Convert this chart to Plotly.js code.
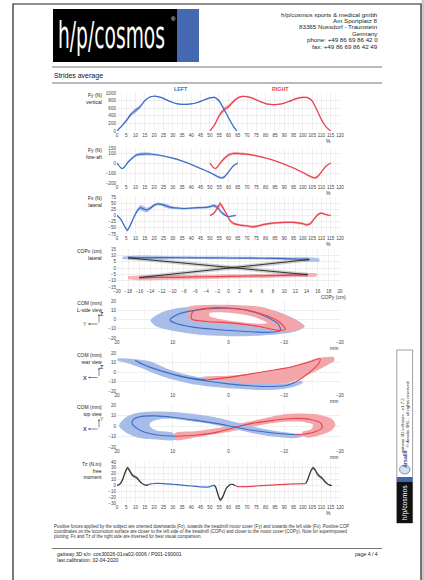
<!DOCTYPE html>
<html><head><meta charset="utf-8">
<script src="https://cdn.plot.ly/plotly-3.0.1.min.js"></script>
<style>
html,body{margin:0;padding:0;background:#fff;}
#wrap{position:relative;width:424px;height:580px;overflow:hidden;}
#chart{width:424px;height:580px;}
#logo{position:absolute;left:0;top:0;pointer-events:none;}
</style>
</head><body>
<div id="wrap"><div id="chart"></div>
<svg id="logo" width="424" height="70">
<text id="logotext" x="0" y="0" font-family="Liberation Sans Narrow, DejaVu Sans Condensed, Arial Narrow, sans-serif" font-size="38" fill="#ffffff">h/p/cosmos</text>
<text x="171" y="21" font-size="6" fill="#ffffff" font-family="Liberation Sans, Arial, sans-serif">®</text>
</svg>
</div>
<script>
// ---------------- DATA ----------------
// Fy vertical (N)
const fyL_x=[0,2.5,5,7.5,10,12.5,15,17.5,20,22.5,25,27.5,30,32.5,35,37.5,40,42.5,45,47.5,50,52.5,55,57.5,60,62.5,64.5];
const fyL_m=[0,130,270,440,540,640,800,890,915,900,860,800,750,715,700,700,712,738,780,830,870,885,790,580,350,130,0];
const fyL_s=[10,25,40,50,60,45,30,20,15,15,15,15,15,15,15,15,15,15,18,20,20,20,25,30,25,15,8];
const fyR_x=[50,52.5,55,57.5,60,62.5,65,67.5,70,72.5,75,77.5,80,82.5,85,87.5,90,92.5,95,97.5,100,102.5,105,107.5,110,112.5,115];
const fyR_m=[0,160,400,560,640,770,870,910,905,870,820,765,720,700,695,705,735,775,825,865,885,880,790,560,300,110,0];
const fyR_s=[10,30,45,55,55,40,30,20,15,15,15,15,15,15,15,15,15,18,20,20,20,20,25,30,25,15,8];
// Fy fore-aft (N)
const faL_x=[0,1,2,3,4,5,6,8,10,12.5,15,17.5,20,25,30,35,40,45,50,52.5,55,56.5,58,60,62.5,65];
const faL_m=[0,-25,-48,-55,-40,-15,10,45,75,88,92,90,85,70,48,20,-15,-55,-95,-120,-143,-150,-135,-90,-30,0];
const faL_s=[4,5,6,6,6,6,8,10,14,16,16,14,10,8,8,8,8,8,8,10,12,12,12,10,8,5];
const faR_x=[50,51,52,53,54,55,56,58,60,62.5,65,67.5,70,75,80,85,90,95,100,102.5,105,106.5,108,110,112.5,115];
const faR_m=[0,-25,-48,-55,-40,-15,10,50,80,95,95,92,88,72,50,22,-12,-50,-95,-120,-143,-150,-135,-90,-30,0];
const faR_s=[4,5,6,6,6,8,10,14,16,16,14,12,10,8,8,8,8,8,8,10,12,12,12,10,8,5];
// Fx lateral (N)
const fxL_x=[0,2,4,5.5,7,9,11,12.5,14,16,18,20,22,24,26,28,30,33,36,40,44,48,50,52,54,56,58,60,62,64];
const fxL_m=[0,-15,-42,-60,-42,-8,20,32,28,22,30,42,47,45,40,35,32,30,28,30,32,33,36,40,33,15,2,-5,-2,0];
const fxL_s=[3,4,5,6,6,6,8,10,12,10,8,6,6,6,8,8,6,5,4,4,4,5,6,7,8,6,5,4,3,3];
const fxR_x=[50,52,54,55.5,57,59,61,63,65,67,70,73,76,80,85,90,95,100,102,104,106,108,110,112,114,115];
const fxR_m=[0,8,30,48,32,5,-22,-33,-37,-40,-42,-46,-42,-35,-30,-28,-28,-33,-38,-33,-15,3,10,5,1,0];
const fxR_s=[3,5,8,10,8,6,6,6,5,5,5,6,5,5,4,4,4,5,6,6,5,5,4,3,3,3];
// COPx lateral vs COPy (cm)
const copL_bx=[-19,-16,-12,-8,-4,0,4,8,12,15,16.3];
const copL_bm=[8.0,8.3,8.2,8.1,8.0,7.9,7.8,7.6,7.2,6.6,6.2];
const copL_bs=[1.0,1.5,1.3,1.1,1.0,1.0,1.0,1.0,1.2,1.6,1.0];
const copL_lx=[-18,-14,-10,-6,-2,2,6,10,14.5];
const copL_ly=[8.0,8.2,8.15,8.05,7.95,7.85,7.7,7.4,6.7];
const copR_bx=[-18,-16,-12,-8,-4,0,4,8,12,14.5,15.8];
const copR_bm=[-7.6,-7.8,-7.6,-7.3,-7.0,-6.7,-6.4,-6.1,-5.8,-5.6,-5.5];
const copR_bs=[1.2,1.8,1.8,1.7,1.6,1.5,1.5,1.5,1.5,1.6,1.2];
const copR_lx=[-16,-12,-8,-4,0,4,8,12,14.2];
const copR_ly=[-7.6,-7.5,-7.2,-6.9,-6.6,-6.3,-6.0,-5.6,-5.3];
const copT1_x=[14.5,-16], copT1_y=[6.7,-7.6];
const copT2_x=[14.2,-18], copT2_y=[-5.3,8.0];
// COM L-side view (mm)
const comS_Lb_x=[14,12.3,9.3,4.6,-0.7,-5.5,-9.6,-12.5,-13.7,-12,-7.9,-1.3,4,9.3,12.9];
const comS_Lb_y=[-1,6.8,12.1,15,15,13.2,6.8,-1.5,-7.5,-12.9,-16.4,-18.2,-17.1,-12.9,-7.5];
const comS_Rb_x=[7,4,-1.3,-6.1,-10.2,-12.6,-13.5,-12.6,-9,-6.1,-1.3,2.8,5.8,7,7.3];
const comS_Rb_y=[13.9,15.7,15.7,13.2,5,-2.1,-7.5,-11,-12.9,-9.3,-5.7,-3.9,-2.1,1.4,8.6];
const comS_hole_x=[3.4,0.4,-4.3,-7,-5.5,-1.3,2.2,3.4];
const comS_hole_y=[6.8,7.5,3.2,-3.9,-4.6,-2.1,1.4,3.9];
const comS_L_x=[10.5,9.3,6.4,1.6,-3.1,-6.7,-9,-9.3,-7.3,-3.1,1.6,6.4,9.6,10.5];
const comS_L_y=[-0.4,5,9.6,12.1,10.4,3.2,-5.7,-11.8,-13.9,-12.9,-11.1,-8.2,-3.9,-0.4];
const comS_R_x=[6.7,6.4,4,-0.7,-5.5,-9,-10.2,-9,-5.5,-0.7,4,6.4,6.7];
const comS_R_y=[1.4,8.6,12.1,12.1,6.8,-2.1,-10.4,-11.8,-7.5,-3.9,-2.1,-0.4,1.4];
// COM rear view (mm)
const comR_Lb_x=[19.9,17.5,14,11,8,4,0,-4,-8,-11,-12.8,-13.4,-12,-9,-5,-1,3,7,10.5,13.5,16,18.5,19.9];
const comR_Lb_y=[14,14,11,3.5,-2,-7,-10,-12,-12.5,-11.5,-9,-11,-15,-18.5,-19,-17.5,-15.5,-12,-7,-1,5,10,12];
const comR_Rb_x=[5,0,-5,-9,-13,-16,-18.9,-19,-17,-15,-13,-11,-7,-2,3,5];
const comR_Rb_y=[-6,-4,-1,2.5,9,14.5,15.5,12,5,-1,-6,-11,-13.5,-14,-12,-10];
const comR_L_x=[4,8,12,15,16.7,14.5,11.5,8,4,0,-4,-8,-10.5,-12];
const comR_L_y=[-8.5,-5,1,7,12.2,6,0,-5.5,-9.5,-12.5,-14.5,-15.3,-14,-10.5];
const comR_R_x=[-12,-13.5,-15,-16.2,-16.4,-14.5,-11,-7,-3,1,4];
const comR_R_y=[-10.5,-5,2,9,14,10.5,5,1,-3,-6.5,-8.5];
// COM top view (mm)
const comT_Lb_x=[19.6,18.2,15.9,12.3,8.7,5.2,1.6,-1.3,-4.3,-7.9,-11.4,-13.2,-13.6,-12,-7.9,-4.3,-1.3,1.6,4,6.4,9.3,12.3,14,14.1,12.9,9.9,9.6,12.3,15.9,18.2,19.4];
const comT_Lb_y=[1.1,9,12.8,13.7,12.8,10.6,7.4,3.6,-0.5,-4.3,-6.8,-7.7,-9.3,-11.5,-9.9,-6.8,-3,0.2,2.7,4.3,6.5,6.5,3.3,-0.5,-4.3,-6.8,-13.1,-13.1,-11.5,-6.8,-2];
const comT_Rb_x=[9.6,6,2.5,-1,-4,-7,-10,-13,-16,-18.5,-19.2,-18.5,-16.5,-13.8,-13.2,-14.8,-15.2,-13.8,-11,-8,-5,-2,1.5,5,9.6];
const comT_Rb_y=[-6.8,-5,-2.3,1,4.5,8,11.2,12,11,7,1.5,-4,-8.5,-10.8,-5.8,-3,1,3.5,4.2,2.8,0,-3.5,-7,-10,-13.1];
const comT_L_x=[-12,-8,-4,-1,2,6,10,13,15.5,17,17.3,16.5,15,12.5,9.5];
const comT_L_y=[-8.3,-6.6,-3.8,-0.8,2.3,5.6,8.4,9.6,9.2,6.5,2.5,-2,-6,-8.8,-9.8];
const comT_R_x=[9.5,6,2,-1,-4,-8,-11.5,-14.5,-16.5,-16.8,-15.5,-13.5,-12];
const comT_R_y=[-9.8,-8.8,-5.8,-1.5,2.3,5.4,7.2,6.5,3,-1.5,-5.5,-7.8,-8.3];
// Tz free moment (N.m)
const tzA_x=[0,1,2,3,4,5,5.7,6.5,7.5,8.5,9.5,10.5,11.5,12.5,13.5,14.5,15.5,17];
const tzA_m=[0,1,4,10,19,27,30,27,21,17,15,13.5,10,6,3.5,1.5,0.5,1.5];
const tzA_s=[1,1,2,3,3,3,3,3,3,3,3,3,2.5,2,1.5,1,1,1];
const tzL_x=[17,18,20,22.5,25,30,35,40,45,48,50,52];
const tzL_m=[1.5,2.5,3.3,3.4,3,2,0.5,-1,-2.5,-3,-2,0.5];
const tzB_x=[52,53,54,55,55.5,56,57,58,59,60,61,62,63.5];
const tzB_m=[0.5,-2,-12,-22,-24.5,-24,-19,-11,-4,-1,1.5,2,0];
const tzB_s=[1,2,3,3.5,3.5,3.5,3,3,2,1.5,1,1,1];
const tzR_x=[63.5,65,67.5,70,75,80,85,90,95,100,101.5];
const tzR_m=[0,-2,-2.2,-2,-1,0,1,1.8,2.5,3.2,3];
const tzC_x=[101.5,102.5,103.5,104.5,105.5,106.5,107.5,108.5,109.5,110.5,111.5,112.5,113.5,114.5,115.5];
const tzC_m=[3,9,18,26,30,27,21,17,14.5,12,8,4.5,2,0.5,0];
const tzC_s=[1,2,3,3,3,3,3,3,3,2.5,2,1.5,1,1,1];

// ---------------- LOGO scaling ----------------
(function(){const t=document.getElementById('logotext');const w=t.getComputedTextLength()||160;t.setAttribute('transform','translate(58,48) scale('+(107/w).toFixed(4)+',1)');})();

// ---------------- STYLE ----------------
const W=424,H=580;
const px=v=>v/W, py=v=>1-v/H;
const FONT='Liberation Sans, Arial, sans-serif';
const BL='#3b6cc6', BLB='rgba(66,112,204,0.42)', RD='#e8424c', RDB='rgba(236,78,88,0.42)';
const BLO='#a8bce8', RDO='#f3a6a9';
const ax=n=>n===1?'x':'x'+n, ay=n=>n===1?'y':'y'+n;

const traces=[];
function bandTrace(n,x,m,s,color){
  const xs=x.concat(x.slice().reverse());
  const ys=m.map((v,i)=>v+s[i]).concat(m.map((v,i)=>v-s[i]).reverse());
  traces.push({type:'scatter',mode:'lines',x:xs,y:ys,fill:'toself',fillcolor:color,line:{width:0,shape:'spline',smoothing:0.5},xaxis:ax(n),yaxis:ay(n),hoverinfo:'skip'});
}
function polyTrace(n,x,y,color){
  traces.push({type:'scatter',mode:'lines',x:x.concat([x[0]]),y:y.concat([y[0]]),fill:'toself',fillcolor:color,line:{width:0,shape:'spline',smoothing:0.8},xaxis:ax(n),yaxis:ay(n),hoverinfo:'skip'});
}
function lineTrace(n,x,y,color,w,sm){
  traces.push({type:'scatter',mode:'lines',x:x,y:y,line:{color:color,width:w||1.2,shape:'spline',smoothing:sm===undefined?0.6:sm},xaxis:ax(n),yaxis:ay(n),hoverinfo:'skip'});
}
// 1 Fy vertical
bandTrace(1,fyL_x,fyL_m,fyL_s,BLB); bandTrace(1,fyR_x,fyR_m,fyR_s,RDB);
lineTrace(1,fyL_x,fyL_m,BL); lineTrace(1,fyR_x,fyR_m,RD);
// 2 Fy fore-aft
bandTrace(2,faL_x,faL_m,faL_s,BLB); bandTrace(2,faR_x,faR_m,faR_s,RDB);
lineTrace(2,faL_x,faL_m,BL); lineTrace(2,faR_x,faR_m,RD);
// 3 Fx lateral
bandTrace(3,fxL_x,fxL_m,fxL_s,BLB); bandTrace(3,fxR_x,fxR_m,fxR_s,RDB);
lineTrace(3,fxL_x,fxL_m,BL); lineTrace(3,fxR_x,fxR_m,RD);
// 4 COP
bandTrace(4,copL_bx,copL_bm,copL_bs,BLB); bandTrace(4,copR_bx,copR_bm,copR_bs,RDB);
lineTrace(4,copT1_x,copT1_y,'rgba(0,0,0,0.18)',4,0); lineTrace(4,copT2_x,copT2_y,'rgba(0,0,0,0.18)',4,0);
lineTrace(4,copL_lx,copL_ly,BL); lineTrace(4,copR_lx,copR_ly,RD);
lineTrace(4,copT1_x,copT1_y,'#222',0.9,0); lineTrace(4,copT2_x,copT2_y,'#222',0.9,0);
// 5 COM side view
polyTrace(5,comS_Lb_x,comS_Lb_y,BLO); polyTrace(5,comS_Rb_x,comS_Rb_y,RDO); polyTrace(5,comS_hole_x,comS_hole_y,'#ffffff');
lineTrace(5,comS_L_x,comS_L_y,BL,1.1,0.8); lineTrace(5,comS_R_x,comS_R_y,RD,1.1,0.8);
// 6 COM rear view
polyTrace(6,comR_Rb_x,comR_Rb_y,RDO); polyTrace(6,comR_Lb_x,comR_Lb_y,BLO);
lineTrace(6,comR_L_x,comR_L_y,BL,1.1,0.8); lineTrace(6,comR_R_x,comR_R_y,RD,1.1,0.8);
// 7 COM top view
polyTrace(7,comT_Rb_x,comT_Rb_y,RDO); polyTrace(7,comT_Lb_x,comT_Lb_y,BLO);
lineTrace(7,comT_R_x,comT_R_y,RD,1.1,0.8); lineTrace(7,comT_L_x,comT_L_y,BL,1.1,0.8);
// 8 Tz
bandTrace(8,tzA_x,tzA_m,tzA_s,'rgba(60,60,60,0.3)'); bandTrace(8,tzB_x,tzB_m,tzB_s,'rgba(60,60,60,0.3)'); bandTrace(8,tzC_x,tzC_m,tzC_s,'rgba(60,60,60,0.3)');
lineTrace(8,tzA_x,tzA_m,'#333'); lineTrace(8,tzB_x,tzB_m,'#333'); lineTrace(8,tzC_x,tzC_m,'#333');
lineTrace(8,tzL_x,tzL_m,BL); lineTrace(8,tzR_x,tzR_m,RD);

// ---------------- LAYOUT ----------------
const tickf={family:FONT,size:4.6,color:'#444'};
const layout={width:W,height:H,margin:{l:0,r:0,t:0,b:0},paper_bgcolor:'#fff',plot_bgcolor:'#fff',showlegend:false,hovermode:false,shapes:[],annotations:[]};
const plots=[
 {top:93,bot:131,xr:[0,120],xd:5,yr:[0,1000],yv:[0,200,400,600,800,1000],lab:'Fy (N)<br>vertical',xl:'%'},
 {top:148,bot:183,xr:[0,120],xd:5,yr:[-200,150],yv:[-200,-100,0,100,150],lab:'Fy (N)<br>fore-aft',xl:'%'},
 {top:197,bot:234,xr:[0,120],xd:5,yr:[-75,75],yv:[-75,-50,-25,0,25,50,75],lab:'Fx (N)<br>lateral',xl:'%'},
 {top:249,bot:287,xr:[-20,20],xd:2,yr:[-15,15],yv:[-15,-10,-5,0,5,10,15],lab:'COPx (cm)<br>lateral',xl:'COPy (cm)'},
 {top:301,bot:338,xr:[20,-20],xd:10,yr:[-20,20],yv:[-20,-10,0,10,20],lab:'COM (mm)<br>L-side view',xl:'mm'},
 {top:353,bot:391,xr:[20,-20],xd:10,yr:[-20,20],yv:[-20,-10,0,10,20],lab:'COM (mm)<br>rear view',xl:'mm'},
 {top:405,bot:447,xr:[20,-20],xd:10,yr:[-20,20],yv:[-20,-10,0,10,20],lab:'COM (mm)<br>top view',xl:'mm'},
 {top:462,bot:503,xr:[0,120],xd:5,yr:[-30,40],yv:[-30,-20,-10,0,10,20,30,40],lab:'Tz (N.m)<br>free<br>moment',xl:'%'}
];
plots.forEach((p,i)=>{
  const n=i+1, xk='xaxis'+(n===1?'':n), yk='yaxis'+(n===1?'':n);
  layout[xk]={domain:[px(117),px(340)],anchor:ay(n),range:p.xr,dtick:p.xd,tick0:0,tickangle:0,showgrid:true,gridcolor:'#e4e4e4',gridwidth:0.6,zeroline:false,showline:false,ticks:'',tickfont:tickf,fixedrange:true,
    minor:{dtick:p.xd/2,showgrid:true,gridcolor:'#f2f2f2',gridwidth:0.5}};
  layout[yk]={domain:[py(p.bot),py(p.top)],anchor:ax(n),range:p.yr,tickvals:p.yv,tickangle:0,showgrid:true,gridcolor:'#e4e4e4',gridwidth:0.6,zeroline:false,showline:false,ticks:'',tickfont:tickf,fixedrange:true};
  layout.annotations.push({xref:'paper',yref:'paper',x:px(104),y:py(p.top-3.5),xanchor:'right',yanchor:'top',align:'right',showarrow:false,text:p.lab,font:{family:FONT,size:5,color:'#222'}});
  layout.annotations.push({xref:'paper',yref:'paper',x:px(p.xl==='%'?328:(p.xl==='mm'?334:348)),y:py(p.bot+10),xanchor:p.xl==='COPy (cm)'?'right':'center',yanchor:'middle',showarrow:false,text:p.xl,font:{family:FONT,size:5,color:'#333'}});
});
const A=layout.annotations, S=layout.shapes;
function txt(t,x,y,o){A.push(Object.assign({xref:'paper',yref:'paper',x:px(x),y:py(y),xanchor:'left',yanchor:'middle',showarrow:false,text:t,font:{family:FONT,size:6,color:'#222'}},o||{}));}
function rect(x0,y0,x1,y1,fill,line,lw){S.push({type:'rect',xref:'paper',yref:'paper',x0:px(x0),x1:px(x1),y0:py(y0),y1:py(y1),fillcolor:fill||'rgba(0,0,0,0)',line:{color:line||'rgba(0,0,0,0)',width:lw||0},layer:'below'});}
function hline(x0,x1,y,c,w){S.push({type:'line',xref:'paper',yref:'paper',x0:px(x0),x1:px(x1),y0:py(y),y1:py(y),line:{color:c,width:w}});}
// page frame
rect(421.5,0,424,580,'#c8c8c8');
rect(13,4,421,620,null,'#222',1.2);
// logo
rect(53,9,177,62,'#000');
rect(177,9,199,62,'#4468b2');
// address
const addr=['h/p/cosmos sports &amp; medical gmbh','Am Sportplatz 8','83365 Nussdorf - Traunstein','Germany','phone: +49 86 69 86 42 0','fax: +49 86 69 86 42 49'];
addr.forEach((t,i)=>txt(t,380,14+i*6.45,{xanchor:'right',font:{family:FONT,size:6.2,color:'#222'}}));
hline(52,382,67,'#777',1.1);
txt('Strides average',52,76,{font:{family:FONT,size:7,color:'#111'}});
hline(52,382,83,'#777',1.1);
txt('<b>LEFT</b>',181,88.5,{xanchor:'center',font:{family:FONT,size:5.3,color:BL}});
txt('<b>RIGHT</b>',280,88.5,{xanchor:'center',font:{family:FONT,size:5.3,color:RD}});
// axis icons
function icon(cx,cy,hl,hc,vl,vc){
  A.push({xref:'paper',yref:'paper',axref:'pixel',ayref:'pixel',x:px(cx-11),y:py(cy),ax:11,ay:0,text:'',showarrow:true,arrowhead:2,arrowsize:0.6,arrowwidth:0.7,arrowcolor:'#555'});
  A.push({xref:'paper',yref:'paper',x:px(cx),y:py(cy-10),ax:0,ay:10,text:'',showarrow:true,arrowhead:2,arrowsize:0.6,arrowwidth:0.7,arrowcolor:'#555'});
  txt('<b>'+hl+'</b>',cx-14.5,cy,{xanchor:'center',font:{family:FONT,size:5.5,color:hc}});
  txt('<b>'+vl+'</b>',cx+3.2,cy-10.5,{xanchor:'center',font:{family:FONT,size:5.5,color:vc}});
}
icon(99,324,'Y','#e8961e','Z','#2c3c9c');
icon(99,377.5,'X','#7a2ca0','Z','#2c3c9c');
icon(99,429,'X','#7a2ca0','Y','#e8961e');
// footnote
const foot=['Positive forces applied by the subject are oriented downwards (Fz), towards the treadmill motor cover (Fy) and towards the left side (Fx). Positive COP',
 'coordinates on the locomotion surface are closer to the left side of the treadmill (COPx) and closer to the motor cover (COPy). Note for superimposed',
 'plotting: Fx and Tz of the right side are inversed for best visual comparison.'];
foot.forEach((t,i)=>txt(t,52,526+i*5.4,{font:{family:FONT,size:4.45,color:'#333'}}));
hline(52,382,548.5,'#777',1.1);
txt('gaitway 3D s/n: cos30026-01va02-0006 / P001-190001',55,554.3,{font:{family:FONT,size:5.1,color:'#222'}});
txt('last calibration: 02-04-2020',55,559.5,{font:{family:FONT,size:5.1,color:'#222'}});
txt('page 4 / 4',380,554.3,{xanchor:'right',font:{family:FONT,size:5.1,color:'#222'}});
// sidebar
rect(396.8,350,412.6,523,'#fff','#888',0.8);
rect(396.8,482,412.6,523,'#111');
rect(396.8,477,412.6,482,'#3d67b1');
S.push({type:'circle',xref:'paper',yref:'paper',x0:px(399.5),x1:px(410),y0:py(474),y1:py(465),line:{color:'#5a78b8',width:0.8},fillcolor:'rgba(150,170,215,0.4)'});
txt('h/p/cosmos',404.7,502.5,{xanchor:'center',textangle:-90,font:{family:FONT,size:6.8,color:'#fff'}});
txt('<b>Arsalis</b>',404.7,459,{xanchor:'center',textangle:-90,font:{family:FONT,size:5.2,color:'#2b4590'}});
txt('gaitway 3D software - v1.7.2',401.6,426,{xanchor:'center',textangle:-90,font:{family:FONT,size:4.4,color:'#333'}});
txt('© Arsalis SRL - all rights reserved',407.2,414,{xanchor:'center',textangle:-90,font:{family:FONT,size:4.4,color:'#333'}});

Plotly.newPlot('chart',traces,layout,{staticPlot:true,displayModeBar:false});
</script>
</body></html>
